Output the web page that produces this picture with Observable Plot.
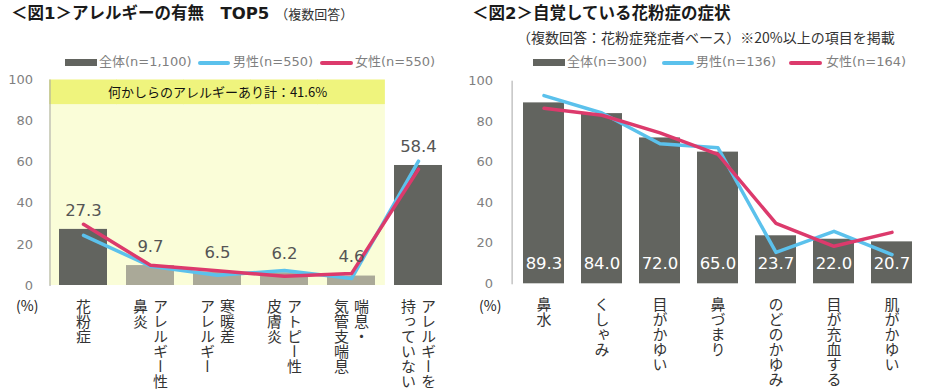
<!DOCTYPE html>
<html><head><meta charset="utf-8">
<script src="https://cdn.jsdelivr.net/npm/d3@7"></script>
<script src="https://cdn.jsdelivr.net/npm/@observablehq/plot@0.6"></script>
<style>
body{margin:0;background:#fff;}
#wrap{position:relative;width:934px;height:392px;overflow:hidden;font-family:"Noto Sans CJK JP",sans-serif;}
.panel{position:absolute;top:0;width:467px;height:392px;}
.panel svg{position:absolute;left:0;top:0;overflow:visible;}
.abs{position:absolute;white-space:nowrap;}
.title{font-weight:bold;font-size:16.5px;color:#1a1a1a;line-height:24px;font-family:"DejaVu Sans","Noto Sans CJK JP",sans-serif;}
.sub{font-size:14px;color:#333;line-height:20px;}
.leg{font-size:13px;color:#7f7f7f;line-height:20px;top:52px;font-family:"DejaVu Sans","Noto Sans CJK JP",sans-serif;}
.sw{position:absolute;}
.pct{font-size:14px;color:#222;line-height:20px;top:295px;}
</style></head>
<body><div id="wrap">
<div id="p1" class="panel" style="left:0"></div>
<div id="p2" class="panel" style="left:467px"></div>
</div>
<script>
// ---------- data ----------
const yTicks = [0, 20, 40, 60, 80, 100];

const title1 = "＜図1＞アレルギーの有無　TOP5";
const title1Note = "（複数回答）";
const cats1 = ["花粉症", "アレルギー性鼻炎", "寒暖差アレルギー", "アトピー性皮膚炎", "喘息・気管支喘息", "アレルギーを持っていない"];
const labelCols1 = [["花粉症"], ["アレルギー性", "鼻炎"], ["寒暖差", "アレルギー"], ["アトピー性", "皮膚炎"], ["喘息・", "気管支喘息"], ["アレルギーを", "持っていない"]];
const total1 = [27.3, 9.7, 6.5, 6.2, 4.6, 58.4];
const male1 = [24.4, 9.4, 5.0, 7.3, 3.4, 60.5];
const female1 = [29.8, 9.8, 7.2, 4.5, 5.8, 56.6];
const tone1 = ["dark", "light", "light", "light", "light", "dark"];
const legend1 = ["全体(n=1,100)", "男性(n=550)", "女性(n=550)"];
const anyAllergyLabel = "何かしらのアレルギーあり計：41.6%";

const title2 = "＜図2＞自覚している花粉症の症状";
const subtitle2 = "（複数回答：花粉症発症者ベース）※20%以上の項目を掲載";
const cats2 = ["鼻水", "くしゃみ", "目がかゆい", "鼻づまり", "のどのかゆみ", "目が充血する", "肌がかゆい"];
const total2 = [89.3, 84.0, 72.0, 65.0, 23.7, 22.0, 20.7];
const male2 = [92.9, 84.3, 69.1, 67.1, 15.5, 25.9, 14.4];
const female2 = [86.6, 83.2, 74.5, 63.9, 29.8, 18.5, 25.4];
const legend2 = ["全体(n=300)", "男性(n=136)", "女性(n=164)"];

const unitLabel = "(%)";

// ---------- styles ----------
const C = {dark: "#62645f", light: "#aaa998", blue: "#5bc1ec", red: "#dc3a6c", axis: "#a6a6a6", tick: "#7f7f7f",
           yel1: "#fafdd8", yel2: "#eff47d"};
const NUM = "DejaVu Sans, Verdana, sans-serif";
const JP = "Noto Sans CJK JP, sans-serif";

const d1 = cats1.map((c, i) => ({cat: c, total: total1[i], male: male1[i], female: female1[i], tone: tone1[i]}));
const d2 = cats2.map((c, i) => ({cat: c, total: total2[i], male: male2[i], female: female2[i]}));
const cols1 = labelCols1.flatMap((cols, i) => cols.map((t, j) => ({cat: cats1[i], text: t, n: cols.length, j})));
const cols2 = cats2.map(c => ({cat: c, text: c, n: 1, j: 0}));

function vertLabels(rows, dy) {
  const common = {x: "cat", y: () => 0, text: "text", textAnchor: "start", lineAnchor: "bottom",
    dy, fontSize: 15, fontFamily: JP, fill: "#333"};
  return [
    Plot.text(rows.filter(r => r.n === 1), {...common}),
    Plot.text(rows.filter(r => r.n === 2 && r.j === 0), {...common, dx: 10}),
    Plot.text(rows.filter(r => r.n === 2 && r.j === 1), {...common, dx: -10})
  ];
}
function verticalize(svg, rows) {
  const set = new Set(rows.map(r => r.text));
  svg.querySelectorAll("text").forEach(t => {
    if (set.has(t.textContent)) {
      t.setAttribute("writing-mode", "tb");
      t.style.writingMode = "vertical-rl";
    }
  });
}

// ---------- chart 1 ----------
const W = 467, H = 392;
const ml1 = 49.5, mr1 = 15.5, pi1 = 0.28, po1 = 0.14;
const step1 = (W - ml1 - mr1) / (cats1.length - pi1 + 2 * po1);
const half1 = step1 * pi1 / 2 + 0.5;
const boxCats = cats1.slice(0, 5);

const plot1 = Plot.plot({
  width: W, height: H, marginLeft: ml1, marginRight: mr1, marginTop: 79.5, marginBottom: 107,
  style: {fontSize: "13px", fontFamily: NUM, color: C.tick, background: "transparent"},
  x: {domain: cats1, paddingInner: pi1, paddingOuter: po1, axis: null},
  y: {domain: [0, 100], axis: null},
  color: {domain: ["dark", "light"], range: [C.dark, C.light]},
  marks: [
    Plot.barY(boxCats, {x: d => d, y1: 0, y2: 88, fill: C.yel1, insetLeft: -half1, insetRight: -half1}),
    Plot.barY(boxCats, {x: d => d, y1: 88, y2: 100, fill: C.yel2, insetLeft: -half1, insetRight: -half1}),
    Plot.axisY({ticks: yTicks, tickSize: 0, tickPadding: 17, fontSize: 13, label: null, fontFamily: NUM}),
    Plot.barY(d1, {x: "cat", y: "total", fill: "tone"}),
    Plot.frame({anchor: "left", stroke: C.axis}),
    Plot.lineY(d1, {x: "cat", y: "male", stroke: C.blue, strokeWidth: 3.5}),
    Plot.lineY(d1, {x: "cat", y: "female", stroke: C.red, strokeWidth: 3.5}),
    Plot.text(d1, {x: "cat", y: "total", text: d => d.total.toFixed(1), dy: -19, fontSize: 16.5, fontFamily: NUM, fill: "#555"}),
    Plot.text([anyAllergyLabel], {x: () => cats1[2], y: () => 93.6, text: d => d, fontSize: 13, fontFamily: JP, fill: "#111"}),
    ...vertLabels(cols1, 13)
  ]
});
verticalize(plot1, cols1);
document.getElementById("p1").appendChild(plot1);

// ---------- chart 2 ----------
const ml2 = 44.6, mr2 = 10.8, pi2 = 0.286, po2 = 0.143;
const plot2 = Plot.plot({
  width: W, height: H, marginLeft: ml2, marginRight: mr2, marginTop: 80.7, marginBottom: 108.7,
  style: {fontSize: "13px", fontFamily: NUM, color: C.tick, background: "transparent"},
  x: {domain: cats2, paddingInner: pi2, paddingOuter: po2, axis: null},
  y: {domain: [0, 100], axis: null},
  marks: [
    Plot.axisY({ticks: yTicks, tickSize: 0, tickPadding: 19, fontSize: 13, label: null, fontFamily: NUM}),
    Plot.barY(d2, {x: "cat", y: "total", fill: C.dark}),
    Plot.frame({anchor: "left", stroke: C.axis}),
    Plot.lineY(d2, {x: "cat", y: "male", stroke: C.blue, strokeWidth: 3.5}),
    Plot.lineY(d2, {x: "cat", y: "female", stroke: C.red, strokeWidth: 3.5}),
    Plot.text(d2, {x: "cat", y: () => 10, text: d => d.total.toFixed(1), fontSize: 16.5, fontFamily: NUM, fill: "#fff"}),
    ...vertLabels(cols2, 13.5)
  ]
});
verticalize(plot2, cols2);
document.getElementById("p2").appendChild(plot2);

// ---------- titles, legends (HTML) ----------
const wrap = document.getElementById("wrap");
function add(html, cls, style) {
  const el = document.createElement("div");
  el.className = "abs " + cls; el.style.cssText = style; el.innerHTML = html; wrap.appendChild(el); return el;
}
add(`${title1}<span style="font-weight:normal;font-size:13px;color:#333;margin-left:6px;font-family:'Noto Sans CJK JP'">${title1Note}</span>`, "title", "left:11px;top:2px;");
add(title2, "title", "left:472px;top:2px;");
add(subtitle2, "sub", "left:517px;top:27px;");

function legend(labels, xs) {
  const [gx, gt, bx, bt, rx, rt] = xs;
  add("", "sw", `left:${gx}px;top:59px;width:32px;height:7px;background:${C.dark}`);
  add(labels[0], "leg", `left:${gt}px;`);
  add("", "sw", `left:${bx}px;top:60.5px;width:32px;height:4px;border-radius:2px;background:${C.blue}`);
  add(labels[1], "leg", `left:${bt}px;`);
  add("", "sw", `left:${rx}px;top:60.5px;width:33px;height:4px;border-radius:2px;background:${C.red}`);
  add(labels[2], "leg", `left:${rt}px;`);
}
legend(legend1, [65, 99, 198, 233, 320, 355]);
legend(legend2, [533, 567, 662, 696, 789, 826]);

add(unitLabel, "pct", "left:16px;");
add(unitLabel, "pct", "left:479px;");
</script>
</body></html>
